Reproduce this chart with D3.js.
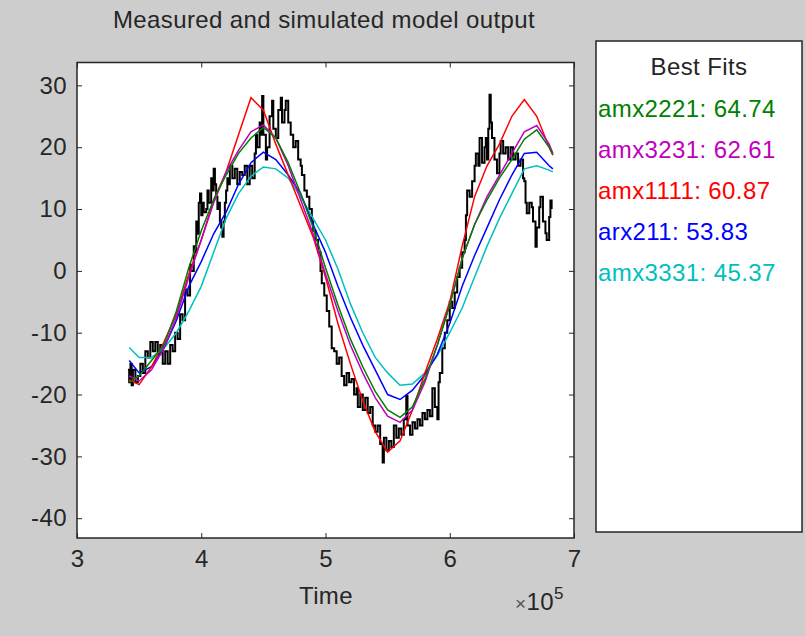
<!DOCTYPE html>
<html>
<head>
<meta charset="utf-8">
<script src="https://cdn.jsdelivr.net/npm/d3@7"></script>
<style>
  body { margin: 0; background: #cdcdcd; }
  svg { display: block; }
  text { font-family: "Liberation Sans", Arial, sans-serif; fill: #262626; letter-spacing: 0.4px; }
</style>
</head>
<body>
<div id="chart"></div>
<script>
//Datos (tiempo en unidades de 1e5)
const measuredT = [3.41,3.42,3.43,3.44,3.45,3.47,3.49,3.51,3.53,3.55,3.57,3.59,3.61,3.63,3.65,3.67,3.69,3.71,3.73,3.75,3.77,3.79,3.81,3.83,3.85,3.87,3.89,3.91,3.92,3.94,3.95,3.96,3.97,3.98,3.99,4.00,4.01,4.02,4.04,4.05,4.06,4.08,4.09,4.10,4.11,4.12,4.13,4.14,4.15,4.16,4.17,4.18,4.19,4.20,4.21,4.22,4.23,4.25,4.27,4.29,4.31,4.33,4.35,4.37,4.39,4.41,4.43,4.44,4.45,4.47,4.48,4.49,4.50,4.52,4.53,4.55,4.57,4.58,4.60,4.62,4.64,4.65,4.67,4.68,4.70,4.72,4.74,4.76,4.78,4.80,4.81,4.83,4.85,4.87,4.89,4.90,4.92,4.94,4.96,4.97,4.99,5.01,5.03,5.05,5.07,5.09,5.11,5.13,5.15,5.17,5.19,5.21,5.23,5.25,5.26,5.28,5.30,5.32,5.34,5.36,5.38,5.40,5.42,5.44,5.46,5.47,5.49,5.51,5.53,5.55,5.57,5.59,5.61,5.63,5.65,5.66,5.68,5.70,5.72,5.74,5.76,5.78,5.80,5.82,5.84,5.86,5.88,5.90,5.91,5.92,5.94,5.96,5.98,6.00,6.02,6.04,6.06,6.08,6.10,6.12,6.13,6.14,6.16,6.18,6.20,6.21,6.23,6.24,6.26,6.28,6.29,6.30,6.31,6.32,6.33,6.34,6.36,6.38,6.40,6.41,6.43,6.45,6.47,6.49,6.51,6.53,6.55,6.57,6.59,6.60,6.61,6.62,6.64,6.66,6.67,6.69,6.70,6.72,6.73,6.75,6.77,6.78,6.80,6.81,6.82];
const measuredV = [-16,-18,-15,-18.5,-16,-18,-17,-15,-16.5,-13,-14,-11.5,-13,-11.5,-13.5,-12,-15,-13,-15,-12,-13,-10,-11,-7,-8,-3,-4,1,0,4,3,8,6,11,12.5,9,11,9.5,10,13,11,15,13,16.5,14,12,10,11,8,7,5.5,8,11,13,15,14,17,15,16.5,14,16,15.5,17,14,17,15,19,22,20,24,22,28.3,22,18,20,25,27.5,23,21.5,26,28,24,26,27.5,24,22,20,21,18,17,15.5,13,12,10,8,6.5,5,3,0,-2,-4,-6.5,-9,-12.5,-13,-15,-14,-17,-18.5,-16.5,-18,-17.5,-20,-19,-22,-20,-22.5,-20.5,-23,-22,-25,-26,-25,-28,-31,-27,-29,-27.5,-28.5,-25,-27,-25.5,-26.5,-24,-20.2,-25,-26.5,-24.5,-25.5,-24,-25,-23,-24,-22.5,-23.5,-19,-22,-24,-18,-16.5,-12.5,-10,-8,-5,-6,-3.5,-1,0.5,3,5,9,13,12,14.5,17,19,17,21.5,17.5,20,21.5,18,23,28.5,24,21.5,18,15.8,19,21,19,20,18,20,18,19,17,18,15,14.5,11,9.3,11,10.3,8,3.9,7,10.3,12,8,6.1,5,8.7,11.4,10];

const simT = [3.42,3.5,3.6,3.7,3.8,3.9,4.0,4.1,4.2,4.3,4.4,4.5,4.6,4.7,4.8,4.9,5.0,5.1,5.2,5.3,5.4,5.5,5.6,5.7,5.8,5.9,6.0,6.1,6.2,6.3,6.4,6.5,6.6,6.7,6.8,6.83];
const amx2221 = [-18,-17,-14.5,-12,-6.5,0.5,6.5,11.5,15.5,19,21.5,23.2,21.5,17.5,12.5,7,0.5,-5.5,-11,-15.5,-19.5,-22.5,-23.7,-22,-17.5,-12,-5.5,2,7.5,11.5,15,18,21.3,22.8,20,18.8];
const amx3231 = [-17,-17.8,-16,-12.5,-7.5,-1,5,11,16,19.5,22.5,23.6,21.5,17,11.5,6,-0.5,-6.5,-12,-16.5,-20.5,-23.5,-24.5,-22.5,-18,-12,-5.5,2,7.5,12,15.5,19,22.5,23.5,20.5,19];
const amx1111 = [-17.6,-18.4,-15.5,-11.5,-7,-0.5,5,11.5,16,22,28,26,20.5,15.5,10.5,5.5,-1,-8.5,-15,-21,-26,-29.3,-27.5,-22.5,-16.5,-11,-5,4,12,17,20.5,25,27.7,25,20,18.7];
const arx211 = [-14.5,-16.5,-15.5,-12.5,-8,-2.5,1.5,6,9.5,14,17.5,19.2,18,15.5,12.5,7.5,3,-2.5,-7.5,-12,-16,-20,-20.8,-19.3,-16.8,-13.5,-8.5,-2.5,2.5,7,11.5,15.5,19,19.2,17,16.5];
const amx3331 = [-12.4,-14,-14,-12.5,-10,-6.5,-2.5,3,8.5,12.5,15.3,16.8,16.5,15,12,8.5,5,0.3,-5.3,-10,-14,-16.5,-18.5,-18.3,-16.5,-13.7,-10,-6,-1,4,8.5,12.5,16.5,17,16.3,16];

const modelNames = ['amx2221','amx3231','amx1111','arx211','amx3331'];
const modelFits = ['64.74','62.61','60.87','53.83','45.37'];
const modelColors = ['#008000','#bf00bf','#ff0000','#0000ff','#00bfbf'];
const modelValues = [amx2221, amx3231, amx1111, arx211, amx3331];

const xTicks = [3,4,5,6,7];
const yTicks = [-40,-30,-20,-10,0,10,20,30];

//Dimensiones
const W = 805, H = 636;
const box = {left: 77, right: 574, top: 62.5, bottom: 538};
const leg = {left: 596, right: 802, top: 41, bottom: 532};
const FONT = 24;

let svg = d3.select('#chart').append('svg')
    .attr('width', W)
    .attr('height', H);

let x = d3.scaleLinear().domain([3, 7]).range([box.left, box.right]);
let y = d3.scaleLinear().domain([-43.2, 33.7]).range([box.bottom, box.top]);

//Fondo de los ejes
svg.append('rect')
    .attr('x', box.left).attr('y', box.top)
    .attr('width', box.right - box.left).attr('height', box.bottom - box.top)
    .attr('fill', '#fff');

//Líneas
svg.append('clipPath').attr('id', 'clip')
    .append('rect')
    .attr('x', box.left).attr('y', box.top)
    .attr('width', box.right - box.left).attr('height', box.bottom - box.top);

let lines = svg.append('g').attr('clip-path', 'url(#clip)');

let measuredLine = d3.line()
    .x(function(d, i) { return x(measuredT[i]); })
    .y(function(d) { return y(d); })
    .curve(d3.curveStepAfter);

lines.append('path')
    .datum(measuredV)
    .attr('d', measuredLine)
    .attr('fill', 'none')
    .attr('stroke', '#000')
    .attr('stroke-width', 2);

let simLine = d3.line()
    .x(function(d, i) { return x(simT[i]); })
    .y(function(d) { return y(d); });

for (let i = modelValues.length - 1; i >= 0; i--) {
    lines.append('path')
        .datum(modelValues[i])
        .attr('d', simLine)
        .attr('fill', 'none')
        .attr('stroke', modelColors[i])
        .attr('stroke-width', 1.5);
}

//Ejes (ticks hacia dentro, estilo MATLAB)
let axisStyle = function(g) {
    g.select('.domain').remove();
    g.selectAll('.tick line').attr('stroke', '#262626');
    g.selectAll('.tick text').attr('font-size', FONT).attr('fill', '#262626')
        .style('font-family', '"Liberation Sans", Arial, sans-serif');
};

svg.append('g')
    .attr('transform', 'translate(0,' + box.bottom + ')')
    .call(d3.axisBottom(x).tickValues(xTicks).tickSize(-5).tickPadding(12).tickFormat(d3.format('d')))
    .call(axisStyle);

svg.append('g')
    .attr('transform', 'translate(0,' + box.top + ')')
    .call(d3.axisTop(x).tickValues(xTicks).tickSize(-5).tickFormat(''))
    .call(axisStyle);

svg.append('g')
    .attr('transform', 'translate(' + box.left + ',0)')
    .call(d3.axisLeft(y).tickValues(yTicks).tickSize(-5).tickPadding(10).tickFormat(d3.format('d')))
    .call(axisStyle);

svg.append('g')
    .attr('transform', 'translate(' + box.right + ',0)')
    .call(d3.axisRight(y).tickValues(yTicks).tickSize(-5).tickFormat(''))
    .call(axisStyle);

svg.selectAll('.tick text').filter(function() { return this.textContent !== ''; })
    .text(function() { return this.textContent.replace('−', '-'); });

//Marco
svg.append('rect')
    .attr('x', box.left).attr('y', box.top)
    .attr('width', box.right - box.left).attr('height', box.bottom - box.top)
    .attr('fill', 'none').attr('stroke', '#262626').attr('stroke-width', 1.5);

//Textos
svg.append('text')
    .attr('x', 324).attr('y', 28)
    .attr('text-anchor', 'middle').attr('font-size', FONT)
    .text('Measured and simulated model output');

svg.append('text')
    .attr('x', 326).attr('y', 604)
    .attr('text-anchor', 'middle').attr('font-size', FONT)
    .text('Time');

let expo = svg.append('text')
    .attr('x', 515).attr('y', 610).attr('font-size', FONT);
expo.append('tspan').attr('font-size', 19).attr('fill', '#555').text('\u00d7');
expo.append('tspan').text('10');
expo.append('tspan').attr('dy', -11).attr('font-size', 17).text('5');

//Leyenda "Best Fits"
svg.append('rect')
    .attr('x', leg.left).attr('y', leg.top)
    .attr('width', leg.right - leg.left).attr('height', leg.bottom - leg.top)
    .attr('fill', '#fff').attr('stroke', '#262626').attr('stroke-width', 1.5);

svg.append('text')
    .attr('x', 699).attr('y', 75)
    .attr('text-anchor', 'middle').attr('font-size', FONT)
    .text('Best Fits');

svg.append('g').selectAll('text')
    .data(modelNames)
    .enter()
    .append('text')
    .attr('x', leg.left + 2)
    .attr('y', function(d, i) { return 117 + i * 41; })
    .attr('font-size', FONT)
    .style('fill', function(d, i) { return modelColors[i]; })
    .text(function(d, i) { return d + ': ' + modelFits[i]; });
</script>
</body>
</html>
